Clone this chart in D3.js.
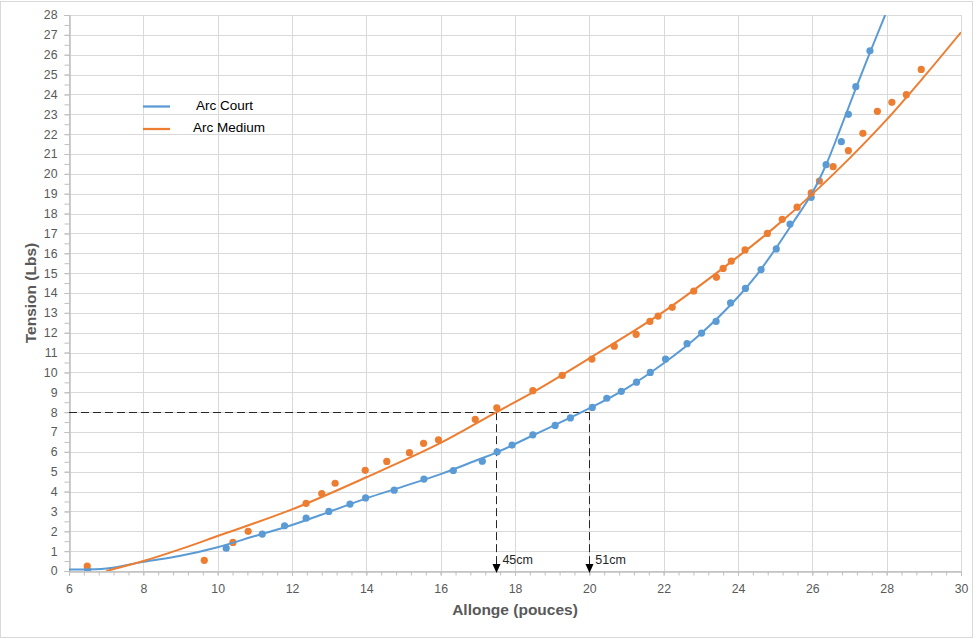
<!DOCTYPE html>
<html><head><meta charset="utf-8">
<script src="https://cdn.jsdelivr.net/npm/d3@7"></script>
<style>body{margin:0;background:#fff}svg{display:block}</style>
</head><body><svg id="c" width="977" height="639"></svg>
<script>
// ---- data ----
const seriesNames = ["Arc Court", "Arc Medium"];

const courtX = [6.5,10.23,11.2,11.8,12.38,12.99,13.56,13.98,14.75,15.55,16.34,17.12,17.52,17.92,18.48,19.08,19.49,20.08,20.47,20.86,21.27,21.64,22.05,22.63,23.02,23.41,23.8,24.2,24.62,25.03,25.4,25.97,26.37,26.78,26.97,27.17,27.55];
const courtY = [0.05,1.15,1.86,2.28,2.66,3.0,3.37,3.68,4.07,4.63,5.06,5.53,6.0,6.34,6.86,7.33,7.71,8.24,8.7,9.05,9.51,10.0,10.67,11.45,11.98,12.57,13.5,14.23,15.18,16.22,17.47,18.82,20.46,21.62,23.0,24.39,26.2];

const mediumX = [6.49,9.64,10.41,10.82,12.38,12.8,13.16,13.97,14.55,15.16,15.54,15.94,16.93,17.51,18.48,19.27,20.07,20.67,21.26,21.63,21.85,22.23,22.81,23.42,23.6,23.82,24.19,24.79,25.19,25.59,25.97,26.19,26.56,26.97,27.36,27.75,28.14,28.53,28.93];
const mediumY = [0.25,0.54,1.44,2.0,3.41,3.9,4.42,5.07,5.52,5.96,6.43,6.61,7.64,8.22,9.08,9.85,10.67,11.32,11.92,12.57,12.84,13.28,14.1,14.79,15.24,15.61,16.17,17.0,17.71,18.32,19.04,19.64,20.36,21.17,22.04,23.15,23.6,23.99,25.26];

// trend lines, read as points along the drawn curves
const courtTrendX = [6,7,8,9,10,11,12,13,14,15,16,17,17.5,18.5,20,21,22,23,24,24.5,25,25.5,26,26.37,26.74,27.17,27.56,27.96];
const courtTrendY = [0.08,0.12,0.46,0.77,1.2,1.76,2.32,2.98,3.66,4.26,4.88,5.6,5.96,6.85,8.19,9.2,10.46,11.95,13.8,14.9,16.2,17.6,19.05,20.46,22.2,24.3,26.15,28.0];
const mediumTrendX = [7,8,9,10,12,14,16,17.5,18.5,20,22,24,25,26,27,28,29,30];
const mediumTrendY = [0,0.5,1.1,1.76,3.1,4.72,6.45,8.0,9.02,10.71,13.06,15.83,17.33,18.98,20.78,22.73,24.88,27.13];

// reference (dashed) lines
const refX = [17.5, 20];
const refY = 8;
const refLabels = ["45cm", "51cm"];

const xTickLabels = [6,8,10,12,14,16,18,20,22,24,26,28,30];
const yTickLabels = [0,1,2,3,4,5,6,7,8,9,10,11,12,13,14,15,16,17,18,19,20,21,22,23,24,25,26,27,28];
const xTitle = "Allonge (pouces)";
const yTitle = "Tension (Lbs)";

// ---- drawing ----
const colors = ["#5b9bd5", "#ed7d31"];
const L = 69, R = 961, T = 15, B = 571;
const svg = d3.select("#c");
const x = d3.scaleLinear().domain([6, 30]).range([L, R]);
const y = d3.scaleLinear().domain([0, 28]).range([B, T]);
const font = "'Liberation Sans', Arial, sans-serif";

svg.append("rect").attr("x", 0.5).attr("y", 1.5).attr("width", 972).attr("height", 636)
  .attr("fill", "#fff").attr("stroke", "#d9d9d9");

// grid
const grid = svg.append("g");
grid.selectAll("line.h").data(yTickLabels).join("line")
  .attr("x1", L).attr("x2", R).attr("y1", d => Math.round(y(d)) + 0.5).attr("y2", d => Math.round(y(d)) + 0.5)
  .attr("stroke", "#d9d9d9");
grid.selectAll("line.v").data(xTickLabels).join("line")
  .attr("y1", T).attr("y2", B).attr("x1", d => Math.round(x(d)) + 0.5).attr("x2", d => Math.round(x(d)) + 0.5)
  .attr("stroke", "#d9d9d9");

// axes
const xMinor = d3.range(0, 61).map(i => 6 + i * 0.4);
const yMinor = d3.range(0, 57).map(i => i * 0.5);
const gxm = svg.append("g").attr("transform", `translate(0,${B + 0.5})`)
  .call(d3.axisBottom(x).tickValues(xMinor).tickSize(4).tickFormat(""));
const gym = svg.append("g").attr("transform", `translate(${L + 0.5},0)`)
  .call(d3.axisLeft(y).tickValues(yMinor).tickSize(5).tickFormat(""));
const gx = svg.append("g").attr("transform", `translate(0,${B + 0.5})`)
  .call(d3.axisBottom(x).tickValues(xTickLabels).tickSize(4).tickPadding(9).tickFormat(d3.format("d")));
const gy = svg.append("g").attr("transform", `translate(${L + 0.5},0)`)
  .call(d3.axisLeft(y).tickValues(yTickLabels).tickSize(5).tickPadding(7).tickFormat(d3.format("d")));
[gxm, gym, gx, gy].forEach(g => {
  g.selectAll("path.domain").attr("stroke", "#bfbfbf");
  g.selectAll(".tick line").attr("stroke", "#bfbfbf");
  g.selectAll(".tick text").attr("fill", "#595959").style("font-family", font).style("font-size", "12.3px");
});

// axis titles
svg.append("text").attr("x", (L + R) / 2).attr("y", 615).attr("text-anchor", "middle")
  .style("font-family", font).style("font-size", "15.5px").style("font-weight", "bold").attr("fill", "#595959")
  .text(xTitle);
svg.append("text").attr("transform", `translate(36,${(T + B) / 2}) rotate(-90)`).attr("text-anchor", "middle")
  .style("font-family", font).style("font-size", "15.5px").style("font-weight", "bold").attr("fill", "#595959")
  .text(yTitle);

// reference dashed lines
const ref = svg.append("g").attr("stroke", "#262626").attr("stroke-width", 1).attr("stroke-dasharray", "8,4").attr("fill", "none");
ref.append("line").attr("x1", x(6)).attr("x2", x(d3.max(refX))).attr("y1", Math.round(y(refY)) + 0.5).attr("y2", Math.round(y(refY)) + 0.5);
ref.selectAll("line.v").data(refX).join("line")
  .attr("x1", d => Math.round(x(d)) + 0.5).attr("x2", d => Math.round(x(d)) + 0.5)
  .attr("y1", y(refY)).attr("y2", B - 6);
svg.selectAll("path.arrow").data(refX).join("path")
  .attr("d", d => { const cx = Math.round(x(d)) + 0.5; return `M${cx - 4},${B - 7}L${cx + 4},${B - 7}L${cx},${B + 2}Z`; })
  .attr("fill", "#000");
svg.selectAll("text.ref").data(refX).join("text")
  .attr("x", d => x(d) + 6).attr("y", B - 7)
  .style("font-family", font).style("font-size", "12.5px").attr("fill", "#262626")
  .text((d, i) => refLabels[i]);

// clip
svg.append("clipPath").attr("id", "pc").append("rect").attr("x", L).attr("y", T).attr("width", R - L).attr("height", B - T);
const plot = svg.append("g").attr("clip-path", "url(#pc)");

const pts = [d3.zip(courtX, courtY), d3.zip(mediumX, mediumY)];
const trends = [d3.zip(courtTrendX, courtTrendY), d3.zip(mediumTrendX, mediumTrendY)];
pts.forEach((p, i) => {
  plot.append("g").selectAll("circle").data(p).join("circle")
    .attr("cx", d => x(d[0])).attr("cy", d => y(d[1])).attr("r", 3.6).attr("fill", colors[i]);
});
const line = d3.line().x(d => x(d[0])).y(d => y(d[1])).curve(d3.curveCatmullRom.alpha(0.5));
trends.forEach((t, i) => {
  plot.append("path").attr("d", line(t)).attr("fill", "none").attr("stroke", colors[i]).attr("stroke-width", 2);
});

// legend
const lg = svg.append("g");
const legY = [106.5, 129];
const legTX = [196, 193];
seriesNames.forEach((n, i) => {
  lg.append("line").attr("x1", 143).attr("x2", 170).attr("y1", legY[i]).attr("y2", legY[i])
    .attr("stroke", colors[i]).attr("stroke-width", 2.25);
  lg.append("text").attr("x", legTX[i]).attr("y", legY[i] - 1.5).attr("dy", "0.35em")
    .style("font-family", font).style("font-size", "13.5px").attr("fill", "#000").text(n);
});
</script>
</body></html>
